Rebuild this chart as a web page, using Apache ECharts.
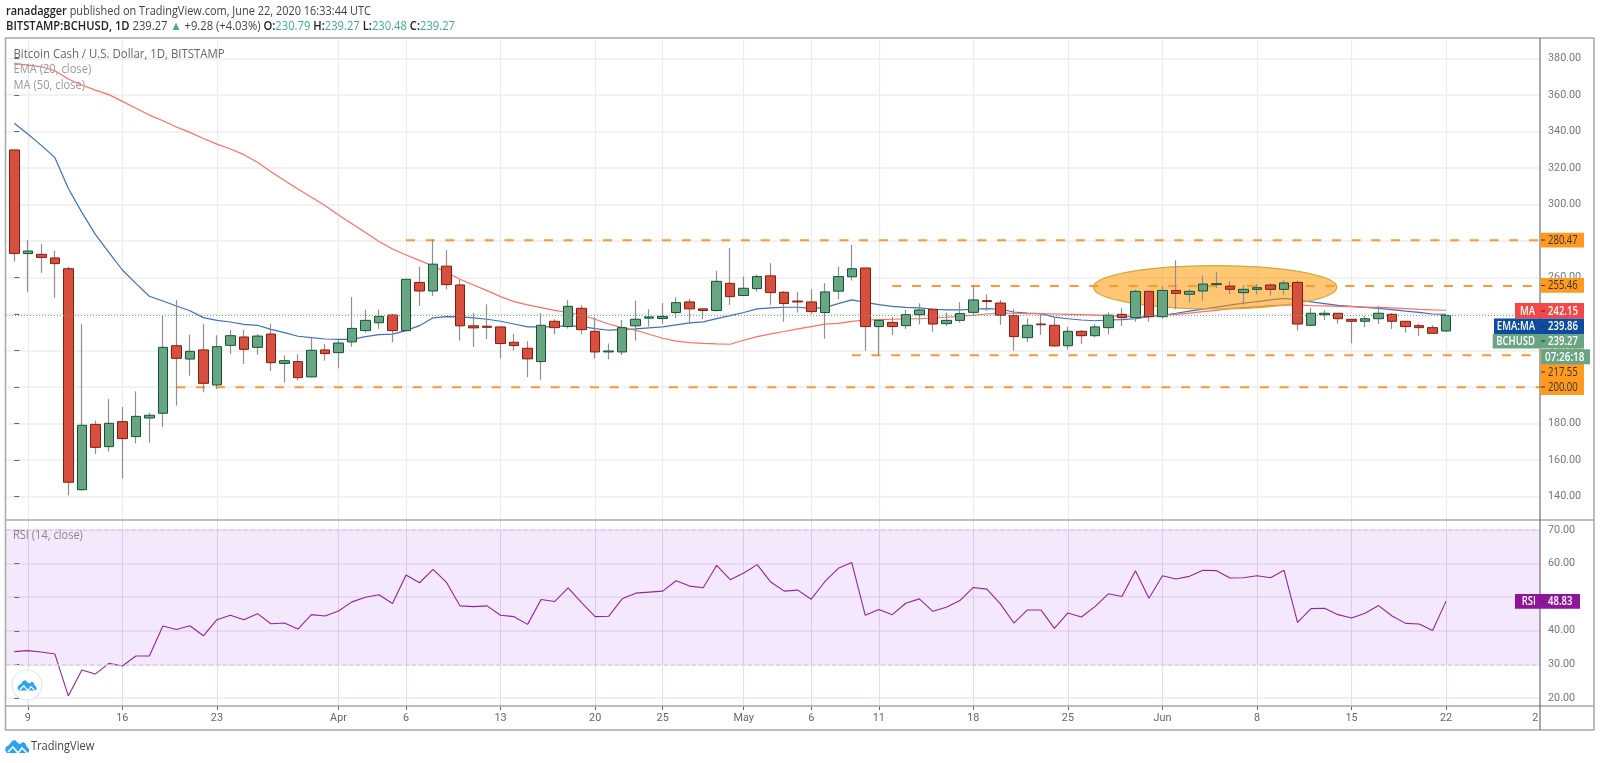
<!DOCTYPE html>
<html>
<head>
<meta charset="utf-8">
<title>BCHUSD</title>
<style>html,body{margin:0;padding:0;background:#fff;overflow:hidden}#c{width:1600px;height:763px}</style>
<script src="https://cdn.jsdelivr.net/npm/echarts@6/dist/echarts.min.js"></script>
</head>
<body>
<div id="c"></div>
<script>
// Day index 0 = 8 March 2020
const opens = [330,273.2,272.8,270.8,264.9,143.8,179.6,167.4,181.1,172.9,
183.1,185.7,222.7,215.4,220.4,201.2,222.9,227.5,221.8,229.1,
213,214,205.6,220.4,218.9,224.8,231,235.3,239.5,231,
257.4,252.7,266.3,256,233.6,233.4,233,224.6,221.3,214,
236.1,233.2,243.2,230.6,219.3,219.3,233.6,237.8,237.6,240.9,
246.7,242.9,242,256.9,250.2,254,261,252,247.2,246.7,
240.9,252.6,260.5,265.3,233.2,235.5,233.7,239.7,242.7,234.8,
236.6,241,247.4,246.1,239.2,227.1,234.6,233.9,222.7,230.6,
228.2,232.6,239.9,238.1,252.5,238.6,253,250.9,252.7,256.2,
255.3,251.8,253.6,256,253.6,257.4,233.9,239.7,240.5,237.2,
236.1,237.5,239.9,236.1,233.7,232.6,230.79];
const closes = [273.3,274.6,271.1,267.7,147.9,179.1,167,180.2,171.8,184,
184.6,221.8,215.8,219.6,202.1,222.2,228.2,220.7,228,213.4,
214.5,205.2,220.2,218.4,224.2,232.2,236.6,238.8,231,259.1,
252.7,267.4,256.2,233.6,232.5,232.8,223.9,222.8,215.5,233.9,
232.6,244.3,231.5,219.3,219.8,232.6,237.2,238.5,238.7,246.3,
242.9,242,258,249.6,254.2,260.6,251.8,245.8,246.7,241.4,
252.2,260.6,264.9,233.2,236.6,233.2,239.7,242.3,234.6,236.6,
240.3,247.8,246.9,239.4,227.7,233.9,234.2,222.6,230.6,228.2,
233,239.4,238.1,252.5,238.6,253,251.4,252.5,256.5,256.7,
253.6,253.6,254.5,253.6,257.1,234.6,240.5,240.5,237.5,236.1,
237.5,240.5,236.1,233.2,232.6,229.5,239.27];
const highs = [330,280.6,278.3,274.8,266,234.6,181.6,193.5,189.1,197.7,
186,239,247.8,228.8,234.6,228.4,231.3,231.3,229.1,234.6,
217.4,218,226.9,223.7,225.8,249.4,242.5,242.5,240.1,259.1,
266,281,275,258.8,240.5,245.4,233,229.2,225.2,240.5,
237.2,247.8,244.9,238.3,223.9,236.8,247.4,242.7,246,249.3,
248.4,242.9,263.7,276.3,260.6,261.7,267.9,252.7,252.2,253.6,
256.9,266.1,277.9,265.3,236.6,238.6,242.3,245.9,242.7,240.8,
246.5,255.8,250.9,247.8,242.8,237.7,240.1,237.9,233.1,231.3,
234.6,241,243.4,253.6,252.5,255.4,269.5,253.6,261.1,263.1,
258,255.8,256.5,256.9,258.5,258.5,243.4,242.3,240.5,237.2,
239,244.5,240.5,236.1,234.8,234,239.27];
const lows = [268.8,252.3,262.7,249,140.7,143.3,163.4,164.7,150,169.2,
169.6,178.2,189.9,206.3,197.2,199,218.2,212.7,217.8,208.9,
202.5,203.6,205.4,214.5,210.3,222.2,229.9,231.9,224.6,231,
244.5,250,253.6,225.5,222.2,226.4,215.8,220,205.4,204,
229,232.1,229,215.8,215.3,217.7,225.5,233.2,234.7,237.8,
234.5,237.4,241.4,245.1,250,252.4,245.1,235.9,240.9,240,
226.6,248.2,258.4,220,217.6,228.6,231.9,234.4,230.4,233.5,
235.3,239.2,241.7,234.2,220,224.6,228.6,222.2,220.7,223.7,
227.3,228.9,233.5,235.9,235.9,237.5,242.7,246.3,247.4,254.2,
251,245.2,250.7,250.1,250.5,231,233.5,236.8,234.8,224,
232.8,234.6,231.9,229.9,228,229.5,230.48];
const ema20 = [344.6,338.7,332.5,325.9,308.9,295.8,283.7,273.9,264.2,256.9,
249.8,247.2,244.5,241.9,238.1,236.6,235.7,234.4,233.9,231.7,
229.9,227.9,227.1,226.4,226.2,226.2,227.7,228.8,229.1,231,
233.7,238,238.7,238.5,238,237.2,236.1,234.6,233,233,
233.2,233.7,233.2,232.1,231.2,231.5,231.9,232.5,233,234.1,
235.2,235.8,237.6,239.2,240.9,242.9,243.4,243.8,243.8,243.2,
243.6,245.8,247.8,246.5,245.2,244.3,243.7,243.4,242.7,242.3,
242.3,242.7,243,242.7,241.2,240.6,240.3,238.4,237.5,236.8,
236.4,236.8,237,237.5,238.6,239.4,240.5,241.7,242.8,243.9,
245,246.1,246.9,247.8,248.7,247.8,246.7,245.8,244.8,244.3,
243.7,243.2,242.5,241.7,241,240.1,239.86];
const ma50 = [377.4,376.5,375.6,373.4,368.9,365.6,362.8,360.3,356.6,352.8,
349.1,346,342.6,339.6,336.3,333.2,330.5,327.4,323.2,318.1,
313.2,308.6,304.1,299.5,294.3,289.6,284.7,279.8,275.7,272.4,
269.5,266.4,262.8,259.1,256,252.9,249.6,246.9,245.1,243.6,
242.1,240.9,239.4,237.2,234.6,232.6,231.2,229,226.8,225.2,
224.4,224,223.7,223.5,225.7,227.7,229.2,230.5,231.9,233.2,
234.5,235,236,236.8,237,237.2,237.4,237.5,237.9,238.3,
238.8,239.4,240.1,240.5,240.5,240.3,240.3,240.1,239.9,239.7,
239.5,239.2,238.8,238.6,239,239.4,239.9,240.6,241.4,242.1,
243,243.6,244.1,244.7,245,245,244.7,244.5,244.3,244.1,
243.9,243.7,243.4,243,242.6,242.3,242.15];
const rsi14 = [33.8,34.1,33.7,33.1,20.6,28.3,27.1,30.3,29.5,32.5,
32.5,41.4,40.4,41.5,38.5,43.3,44.6,43.3,45.1,42.1,
42.3,40.5,44.8,44.4,45.9,48.6,50,50.7,48.1,56.6,
54.3,58.3,54.4,47.4,47.2,47.4,44.6,44.2,41.9,49.3,
48.7,52.8,48.4,44.2,44.3,49.5,51.2,51.5,51.8,54.9,
53.3,52.8,59.5,55.2,57.2,59.7,54.5,51.8,52.1,49.4,
54.6,58.6,60.3,44.6,46.3,44.8,48.2,49.5,45.8,47,
49,52.9,52.4,48,42.3,46.2,46.2,40.7,45.3,44.1,
47.2,51,50.2,57.9,49.7,56.4,55.4,56.2,58,57.9,
55.7,55.8,56.4,55.8,58,42.5,46.6,46.7,44.8,43.8,
45.2,47.5,44.4,42.2,42,40.1,48.83];

const priceTicks = [140,160,180,200,220,240,260,280,300,320,340,360,380];
const rsiTicks = [20,30,40,50,60,70];
const rsiLabelTicks = [20,30,40,60,70];
const dayTicks = [1,8,15,24,29,36,43,48,54,59,64,71,78,85,92,99,106];
const dayLabels = ['9','16','23','Apr','6','13','20','25','May','6','11','18','25','Jun','8','15','22'];
const clippedTick = 112.6, clippedLabel = '2';
const levels = [280.47,255.46,217.55,200];
const levelStarts = [29,65,62,12];
const lastPrice = 239.27;
const rsiBand = [70,30];
const ellipseBounds = [79.9,97.9,266.6,242.9];

const X_MIN=-0.614, X_MAX=112.95;
const F='"Open Sans",sans-serif';
const A='Roboto,sans-serif';
const xs = opens.map((_,i)=>i);
const wickData = xs.map(i=>[i,opens[i],closes[i],lows[i],highs[i]]);
const bodyData = xs.map(i=>[i,opens[i],closes[i],Math.min(opens[i],closes[i]),Math.max(opens[i],closes[i])]);
const ln = a=>xs.map(i=>[i,a[i]]);
const labelFor = v=>{ if(v===clippedTick) return clippedLabel; const k=dayTicks.indexOf(v); return k<0?'':dayLabels[k]; };

const lvlSeries = levels.map((v,k)=>({type:'line',xAxisIndex:0,yAxisIndex:0,data:[[levelStarts[k],v],[X_MAX,v]],
  symbol:'none',silent:true,z:4,lineStyle:{color:'#ff982e',width:2,type:[9,10.7]}}));

// ---- decorations: frame, header, price tags, logos
const g=[];
const frame='#a8a8a8';
g.push({type:'rect',z:50,shape:{x:5.5,y:38,width:1588.5,height:692},style:{fill:'none',stroke:frame,lineWidth:1.5}});
g.push({type:'line',z:50,shape:{x1:6,y1:520,x2:1594,y2:520},style:{stroke:frame,lineWidth:1.5}});
g.push({type:'line',z:50,shape:{x1:6,y1:706,x2:1594,y2:706},style:{stroke:frame,lineWidth:1.5}});
g.push({type:'line',z:50,shape:{x1:1540,y1:38,x2:1540,y2:730},style:{stroke:'#555',lineWidth:1}});
function text(x,y,t,fill,size,opt){opt=opt||{};g.push({type:'text',z:opt.z||110,x:x,y:y,scaleX:opt.sx||1,style:{text:t,fill:fill,font:(opt.weight||'normal')+' '+size+'px '+F,textAlign:opt.align||'left',textVerticalAlign:'middle'}});}
// header
g.push({type:'text',z:110,x:6,y:11,scaleX:0.87,style:{text:'{b|ranadagger} {n|published on TradingView.com, June 22, 2020 16:33:44 UTC}',
  verticalAlign:'middle',rich:{b:{font:'600 12.6px '+F,fill:'#222'},n:{font:'12.6px '+F,fill:'#444'}}}});
const T='#3fa99b';
g.push({type:'text',z:110,x:6,y:26,scaleX:0.89,style:{text:'{b|BITSTAMP:BCHUSD, 1D} {n|239.27} {t|▲} {n|+9.28 (+4.03%)} {b|O:}{t|230.79} {b|H:}{t|239.27} {b|L:}{t|230.48} {b|C:}{t|239.27}',
  verticalAlign:'middle',rich:{b:{font:'600 12.6px '+F,fill:'#222'},n:{font:'12.6px '+F,fill:'#444'},t:{font:'12.6px '+F,fill:T}}}});
// study titles
text(13.5,54,'Bitcoin Cash / U.S. Dollar, 1D, BITSTAMP','#666',12.4,{weight:'500',sx:0.92});
text(13.5,69.5,'EMA (20, close)','#9a9a9a',12.4,{sx:0.9});
text(13.5,85,'MA (50, close)','#9a9a9a',12.4,{sx:0.9});
text(13,535.5,'RSI (14, close)','#888',12,{sx:0.92});
// right scale tags
function box(x,y,w,h,fill,z){g.push({type:'rect',z:z||100,shape:{x:x,y:y,width:w,height:h},style:{fill:fill}});}
const OR='#ff9a1f';
const tagX=1540.5,tagW=43.5,TS=12.4,SX=0.77;
function tick(y){g.push({type:'line',z:112,shape:{x1:1541,y1:y,x2:1545,y2:y},style:{stroke:'#333',lineWidth:1}});}
function plain(y,t){text(1548,y,t,'#333',TS,{sx:SX});}
function strong(x,y,t,align){text(x,y,t,'#fff',TS,{sx:SX,weight:'600',align:align||'left'});}
box(tagX,232.7,tagW,14.8,OR); plain(240.2,'280.47'); tick(240);
box(tagX,278,tagW,14.8,OR); plain(285.6,'255.46'); tick(285.5);
box(tagX,349,tagW,46,OR); plain(372,'217.55'); plain(387.5,'200.00'); tick(372); tick(387);
box(1515,303,69,15.6,'#f44747'); strong(1535,311,'MA','right'); strong(1548,311,'242.15'); tick(311);
box(1494,318.6,90,15.4,'#0d4ba0'); strong(1535,326.4,'EMA:MA','right'); strong(1548,326.4,'239.86'); tick(326);
box(1492.7,334,91.3,14.6,'#6aa583'); strong(1535,341.5,'BCHUSD','right'); strong(1548,341.5,'239.27'); tick(341);
box(1541,349.3,49,15,'#6aa583',105); text(1545,357,'07:26:18','#fff',TS,{weight:'600',z:115,sx:0.8});
box(1515,594,65,14.8,'#8e1599'); strong(1536,601.5,'RSI','right'); strong(1548,601.5,'48.83'); tick(601.5);
// logos
function logo(cx,cy,s){
  const P=[[-12,4],[-11,1],[-8,-1],[-5,-5],[-2,-6],[1,-3],[3,-2],[6,-4],[8,-3],[10,1],[12,3],[12,6],[10,7],[-10,7]];
  const Z=[[-9,6],[-4,1],[1,7],[5,2],[10,7]];
  g.push({type:'polygon',z:120,shape:{points:P.map(p=>[cx+p[0]*s,cy+p[1]*s])},style:{fill:'#2ea3f2'}});
  g.push({type:'polyline',z:121,shape:{points:Z.map(p=>[cx+p[0]*s,cy+p[1]*s])},style:{stroke:'#fff',fill:'none',lineWidth:1.6*s}});
}
g.push({type:'circle',z:90,shape:{cx:27,cy:685,r:15},style:{fill:'#fff',stroke:'#e6e6e6',lineWidth:1.2}});
logo(27,685,0.8);
logo(17,746,1);
text(31,746,'TradingView','#444',13,{sx:0.85});

const option={
  animation:false,
  backgroundColor:'#fff',
  graphic:{elements:g},
  grid:[
    {left:6,top:38,width:1534,height:482},
    {left:6,top:520,width:1534,height:186}
  ],
  xAxis:[
    {type:'value',gridIndex:0,min:X_MIN,max:X_MAX,axisLine:{show:false},
     axisTick:{show:false,customValues:dayTicks},axisLabel:{show:false,customValues:dayTicks},
     splitLine:{show:true,lineStyle:{color:'#ececec',width:1.2}}},
    {type:'value',gridIndex:1,min:X_MIN,max:X_MAX,axisLine:{show:false},
     axisTick:{show:true,length:4,lineStyle:{color:'#666'},customValues:dayTicks},
     axisLabel:{show:true,customValues:dayTicks.concat([clippedTick]),formatter:labelFor,color:'#666',fontSize:10.8,fontFamily:A,margin:7,hideOverlap:false,showMinLabel:true,showMaxLabel:true},
     splitLine:{show:true,lineStyle:{color:'#e4dfe8',width:1}}}
  ],
  yAxis:[
    {type:'value',gridIndex:0,position:'right',min:127.2,max:391.34,axisLine:{show:false},
     axisTick:{show:true,length:5,lineStyle:{color:'#666'},customValues:priceTicks},
     axisLabel:{show:true,customValues:priceTicks,formatter:v=>v.toFixed(2),color:'#777',fontSize:10.8,fontFamily:A,margin:8},
     splitLine:{show:true,lineStyle:{color:'#eeeeee',width:1.6}}},
    {type:'value',gridIndex:1,position:'right',min:17.6,max:72.98,axisLine:{show:false},
     axisTick:{show:true,length:5,lineStyle:{color:'#666'},customValues:rsiTicks},
     axisLabel:{show:true,customValues:rsiLabelTicks,formatter:v=>v.toFixed(2),color:'#777',fontSize:10.8,fontFamily:A,margin:8},
     splitLine:{show:true,lineStyle:{color:'rgba(120,60,140,0.09)',width:1.8}}}
  ],
  series:[
    {name:'EMA',type:'line',xAxisIndex:0,yAxisIndex:0,data:ln(ema20),symbol:'none',z:2,lineStyle:{color:'#3f6fc2',width:1.2}},
    {name:'MA',type:'line',xAxisIndex:0,yAxisIndex:0,data:ln(ma50),symbol:'none',z:2,lineStyle:{color:'#ff6f66',width:1.2}},
    {name:'Zone',type:'custom',xAxisIndex:0,yAxisIndex:0,z:3,silent:true,clip:false,
     data:[ellipseBounds],encode:{x:[0,1],y:[2,3]},
     renderItem:(p,api)=>{
       const a=api.coord([api.value(0),api.value(2)]),b=api.coord([api.value(1),api.value(3)]);
       return {type:'ellipse',shape:{cx:(a[0]+b[0])/2,cy:(a[1]+b[1])/2,rx:Math.abs(b[0]-a[0])/2,ry:Math.abs(b[1]-a[1])/2},
         style:{fill:'rgba(255,152,0,0.55)',stroke:'#cfa93c',lineWidth:1.2}};
     }},
    ...lvlSeries,
    {name:'Wicks',type:'candlestick',xAxisIndex:0,yAxisIndex:0,data:wickData,barWidth:1,z:5,silent:true,
     encode:{x:0,y:[1,2,3,4]},
     itemStyle:{color:'#8f8f8f',color0:'#8f8f8f',borderColor:'#8f8f8f',borderColor0:'#8f8f8f',borderWidth:1.2}},
    {name:'BCHUSD',type:'candlestick',xAxisIndex:0,yAxisIndex:0,data:bodyData,barWidth:10,z:6,silent:true,
     encode:{x:0,y:[1,2,3,4]},
     itemStyle:{color:'#6aa583',color0:'#d5503e',borderColor:'#0d5733',borderColor0:'#8a1a0e',borderWidth:1}},
    {name:'Last',type:'line',xAxisIndex:0,yAxisIndex:0,data:[[X_MIN,lastPrice],[X_MAX,lastPrice]],symbol:'none',z:7,silent:true,
     lineStyle:{color:'#6aa583',width:1,type:[1,2]}},
    {name:'RSI',type:'line',xAxisIndex:1,yAxisIndex:1,data:ln(rsi14),symbol:'none',z:4,lineStyle:{color:'#94249f',width:1.1},
     markArea:{silent:true,itemStyle:{color:'rgba(155,50,230,0.115)'},data:[[{yAxis:rsiBand[0]},{yAxis:rsiBand[1]}]]},
     markLine:{silent:true,symbol:'none',label:{show:false},lineStyle:{color:'#dccbe4',type:[4,3],width:1.5},data:rsiBand.map(v=>({yAxis:v}))}}
  ]
};
echarts.init(document.getElementById('c'),null,{renderer:'canvas'}).setOption(option);
</script>
</body>
</html>
